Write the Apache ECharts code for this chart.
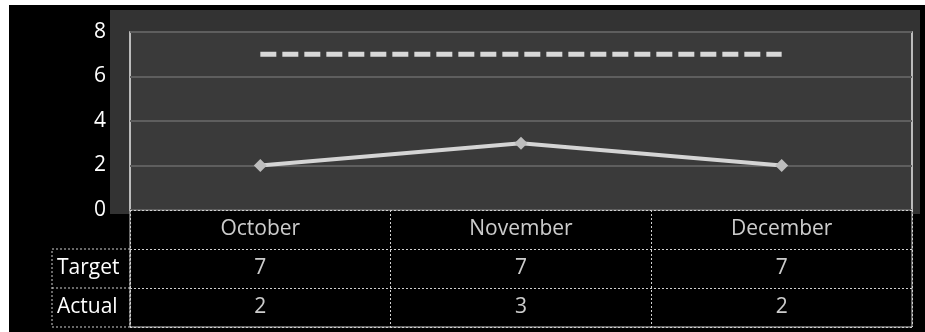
<!DOCTYPE html>
<html>
<head>
<meta charset="utf-8">
<script src="https://cdn.jsdelivr.net/npm/echarts@6/dist/echarts.min.js"></script>
<style>
html,body{margin:0;padding:0;background:#fff;}
#chart{width:925px;height:332px;}
</style>
</head>
<body>
<div id="chart"></div>
<script>
const categories = ['October', 'November', 'December'];
const targetValues = [7, 7, 7];
const actualValues = [2, 3, 2];
const rowNames = ['Actual', 'Target', ''];
const yTicks = [0, 2, 4, 6, 8];

const FONT = '"Open Sans", sans-serif';
const chart = echarts.init(document.getElementById('chart'));

// table cells built from the arrays
const tableCells = [];
categories.forEach((c, i) => {
  tableCells.push({ value: [c, ''], text: c });
  tableCells.push({ value: [c, 'Target'], text: String(targetValues[i]) });
  tableCells.push({ value: [c, 'Actual'], text: String(actualValues[i]) });
});

const option = {
  backgroundColor: '#ffffff',
  animation: false,
  graphic: [
    { type: 'rect', z: -10, shape: { x: 9, y: 5, width: 916, height: 327 }, style: { fill: '#000' } },
    { type: 'rect', z: -9, shape: { x: 110, y: 10, width: 810, height: 204 }, style: { fill: '#333' } },
    { type: 'rect', z: 5, shape: { x: 52, y: 249, width: 78, height: 78 },
      style: { fill: 'none', stroke: '#d0d0d0', lineWidth: 1, lineDash: [2, 2] } },
    { type: 'line', z: 5, shape: { x1: 52, y1: 288, x2: 130, y2: 288 },
      style: { stroke: '#d0d0d0', lineWidth: 1, lineDash: [2, 2] } }
  ],
  grid: [
    { left: 130, right: 13, top: 32, height: 178, show: true, backgroundColor: '#3a3a3a',
      borderColor: '#e8e8e8', borderWidth: 1.5 },
    { left: 130, right: 13, top: 210, height: 117, show: true, backgroundColor: '#000',
      borderColor: '#d0d0d0', borderWidth: 1 }
  ],
  xAxis: [
    { type: 'category', gridIndex: 0, data: categories, boundaryGap: true,
      axisLine: { show: false }, axisTick: { show: false }, axisLabel: { show: false },
      splitLine: { show: false } },
    { type: 'category', gridIndex: 1, data: categories, boundaryGap: true,
      axisLine: { show: false }, axisTick: { show: false }, axisLabel: { show: false },
      splitLine: { show: true, interval: 0, lineStyle: { color: '#d0d0d0', width: 1, type: [2, 2] } } }
  ],
  yAxis: [
    { type: 'value', gridIndex: 0, min: 0, max: 8, interval: 2,
      axisLine: { show: false }, axisTick: { show: false },
      axisLabel: { color: '#fff', fontSize: 21, fontFamily: FONT, margin: 24,
        formatter: v => yTicks.includes(v) ? String(v) : '' },
      splitLine: { show: true, lineStyle: { color: '#5e5e5e', width: 2 } } },
    { type: 'category', gridIndex: 1, data: rowNames,
      axisLine: { show: false }, axisTick: { show: false },
      axisLabel: { color: '#fff', fontSize: 21, fontFamily: FONT, align: 'left', margin: 73 },
      splitLine: { show: true, interval: 0, lineStyle: { color: '#d0d0d0', width: 1, type: [2, 2] } } }
  ],
  series: [
    { name: 'Target', type: 'line', xAxisIndex: 0, yAxisIndex: 0, data: targetValues,
      symbol: 'none', lineStyle: { color: '#d8d8d8', width: 5, type: [16, 6] }, z: 3 },
    { name: 'Actual', type: 'line', xAxisIndex: 0, yAxisIndex: 0, data: actualValues,
      symbol: 'diamond', symbolSize: 13, itemStyle: { color: '#bdbdbd' },
      lineStyle: { color: '#d4d4d4', width: 4 }, z: 4 },
    { name: 'table', type: 'scatter', xAxisIndex: 1, yAxisIndex: 1,
      data: tableCells, symbolSize: 1, itemStyle: { color: 'rgba(0,0,0,0)' },
      label: { show: true, position: 'inside', color: '#fff', fontSize: 21, fontFamily: FONT,
        formatter: p => p.data.text }, z: 6 }
  ]
};
chart.setOption(option);
</script>
</body>
</html>
